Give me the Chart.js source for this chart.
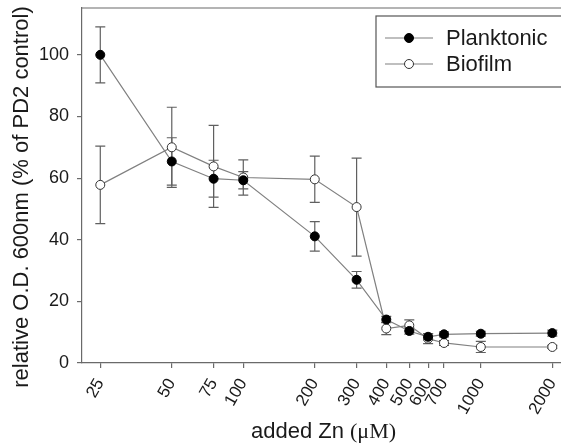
<!DOCTYPE html>
<html>
<head>
<meta charset="utf-8">
<script src="https://cdn.jsdelivr.net/npm/chart.js@4/dist/chart.umd.min.js"></script>
<style>
  html, body { margin: 0; padding: 0; background: #fff; overflow: hidden; }
  #wrap { width: 561px; height: 444px; }
</style>
</head>
<body>
<div id="wrap"><canvas id="c" width="561" height="444"></canvas></div>
<script>
const concentrations = [25, 50, 75, 100, 200, 300, 400, 500, 600, 700, 1000, 2000];
const xTickLabels = ['25', '50', '75', '100', '200', '300', '400', '500', '600', '700', '1000', '2000'];
const yTickValues = [0, 20, 40, 60, 80, 100];
const planktonic    = [100, 65.4, 59.8, 59.3, 41.1, 27.0, 14.1, 10.4, 8.5, 9.3, 9.5, 9.7];
const planktonicErr = [9.1, 7.7, 6.0, 2.8, 4.8, 2.7, 1.0, 1.0, 1.0, 0.8, 0.8, 1.0];
const biofilm       = [57.8, 70.0, 63.8, 60.2, 59.6, 50.6, 11.2, 12.2, 7.9, 6.5, 5.2, 5.2];
const biofilmErr    = [12.6, 13.0, 13.3, 5.7, 7.5, 15.9, 2.0, 1.8, 1.6, 0.8, 1.8, 0.5];
const seriesNames = ['Planktonic', 'Biofilm'];
const yTitle = 'relative O.D. 600nm (% of PD2 control)';
const xTitleMain = 'added Zn ';
const xTitleUnit = '(\u03bcM)';

const FONT = "'Liberation Sans', Arial, sans-serif";
const SERIF = "'Liberation Serif', 'Times New Roman', serif";
const LINE = '#808080';
const AXIS = '#6a6a6a';
const TEXT = '#1a1a1a';

const errorBars = {
  id: 'errorBars',
  beforeDatasetsDraw(chart) {
    const ctx = chart.ctx;
    const xs = chart.scales.x, ys = chart.scales.y;
    ctx.save();
    ctx.strokeStyle = '#606060';
    ctx.lineWidth = 1.2;
    chart.data.datasets.forEach(ds => {
      ds.data.forEach((p, i) => {
        const e = ds.errors[i];
        const x = xs.getPixelForValue(p.x);
        const y1 = ys.getPixelForValue(p.y - e);
        const y2 = ys.getPixelForValue(p.y + e);
        ctx.beginPath();
        ctx.moveTo(x, y1); ctx.lineTo(x, y2);
        ctx.moveTo(x - 5, y1); ctx.lineTo(x + 5, y1);
        ctx.moveTo(x - 5, y2); ctx.lineTo(x + 5, y2);
        ctx.stroke();
      });
    });
    ctx.restore();
  }
};

const decorations = {
  id: 'decorations',
  afterDraw(chart) {
    const ctx = chart.ctx;
    const a = chart.chartArea;
    ctx.save();
    // top frame line
    ctx.strokeStyle = AXIS;
    ctx.lineWidth = 1.2;
    ctx.beginPath();
    ctx.moveTo(a.left, a.top); ctx.lineTo(chart.width + 10, a.top);
    ctx.stroke();
    // legend box (runs past the right edge, as in the original crop)
    ctx.strokeStyle = '#555';
    ctx.fillStyle = '#fff';
    ctx.fillRect(376, 16, 200, 71);
    ctx.strokeRect(376, 16, 200, 71);
    const rows = [38, 64];
    chart.data.datasets.forEach((ds, i) => {
      const y = rows[i];
      ctx.strokeStyle = LINE;
      ctx.lineWidth = 1.2;
      ctx.beginPath(); ctx.moveTo(385, y); ctx.lineTo(433, y); ctx.stroke();
      ctx.beginPath(); ctx.arc(409, y, 4.5, 0, Math.PI * 2);
      ctx.fillStyle = ds.pointBackgroundColor; ctx.fill();
      ctx.strokeStyle = ds.pointBorderColor; ctx.lineWidth = 1; ctx.stroke();
      ctx.fillStyle = TEXT;
      ctx.font = "22px " + FONT;
      ctx.textBaseline = 'middle';
      ctx.textAlign = 'left';
      ctx.fillText(ds.label, 446, y + 1);
    });
    // y axis title
    ctx.fillStyle = TEXT;
    ctx.save();
    ctx.translate(22, 197);
    ctx.rotate(-Math.PI / 2);
    ctx.font = "22px " + FONT;
    ctx.textAlign = 'center';
    ctx.textBaseline = 'middle';
    ctx.fillText(yTitle, 0, 0);
    ctx.restore();
    // x axis title, unit in serif as in the original
    ctx.font = "22px " + FONT;
    const w1 = ctx.measureText(xTitleMain).width;
    ctx.font = "22px " + SERIF;
    const w2 = ctx.measureText(xTitleUnit).width;
    const x0 = 323.5 - (w1 + w2) / 2;
    ctx.textBaseline = 'alphabetic';
    ctx.textAlign = 'left';
    ctx.font = "22px " + FONT;
    ctx.fillText(xTitleMain, x0, 438);
    ctx.font = "22px " + SERIF;
    ctx.fillText(xTitleUnit, x0 + w1, 438);
    ctx.restore();
  }
};

const toPoints = (vals) => vals.map((v, i) => ({ x: concentrations[i], y: v }));

new Chart(document.getElementById('c'), {
  type: 'line',
  data: {
    datasets: [
      {
        label: seriesNames[0],
        data: toPoints(planktonic),
        errors: planktonicErr,
        borderColor: LINE, borderWidth: 1.2,
        pointRadius: 4.5, pointBackgroundColor: '#000', pointBorderColor: '#000', pointBorderWidth: 1,
        tension: 0, clip: false
      },
      {
        label: seriesNames[1],
        data: toPoints(biofilm),
        errors: biofilmErr,
        borderColor: LINE, borderWidth: 1.2,
        pointRadius: 4.5, pointBackgroundColor: '#fff', pointBorderColor: '#333', pointBorderWidth: 1,
        tension: 0, clip: false
      }
    ]
  },
  options: {
    responsive: false,
    animation: false,
    events: [],
    layout: { autoPadding: false, padding: { top: 8, right: 0, left: 0, bottom: 0 } },
    plugins: { legend: { display: false }, tooltip: { enabled: false } },
    scales: {
      x: {
        type: 'logarithmic',
        min: 20.94, max: 2176,
        afterBuildTicks: (s) => { s.ticks = concentrations.map(v => ({ value: v })); },
        afterFit: (s) => { s.height = 81; s.paddingLeft = 0; s.paddingRight = 0; },
        ticks: {
          autoSkip: false, minRotation: 60, maxRotation: 60,
          callback: (v, i) => xTickLabels[i],
          color: TEXT, font: { family: FONT, size: 17 }, padding: 7
        },
        grid: { display: true, drawOnChartArea: false, drawTicks: true, tickLength: 5, color: AXIS, lineWidth: 1.2 },
        border: { display: true, color: AXIS, width: 1.2 },
        title: { display: false }
      },
      y: {
        min: 0, max: 115.2,
        afterBuildTicks: (s) => { s.ticks = yTickValues.map(v => ({ value: v })); },
        afterFit: (s) => { s.width = 82; s.paddingTop = 0; s.paddingBottom = 0; },
        ticks: { color: TEXT, font: { family: FONT, size: 18 }, padding: 8 },
        grid: { display: true, drawOnChartArea: false, drawTicks: true, tickLength: 5, color: AXIS, lineWidth: 1.2 },
        border: { display: true, color: AXIS, width: 1.2 },
        title: { display: false }
      }
    }
  },
  plugins: [errorBars, decorations]
});
</script>
</body>
</html>
